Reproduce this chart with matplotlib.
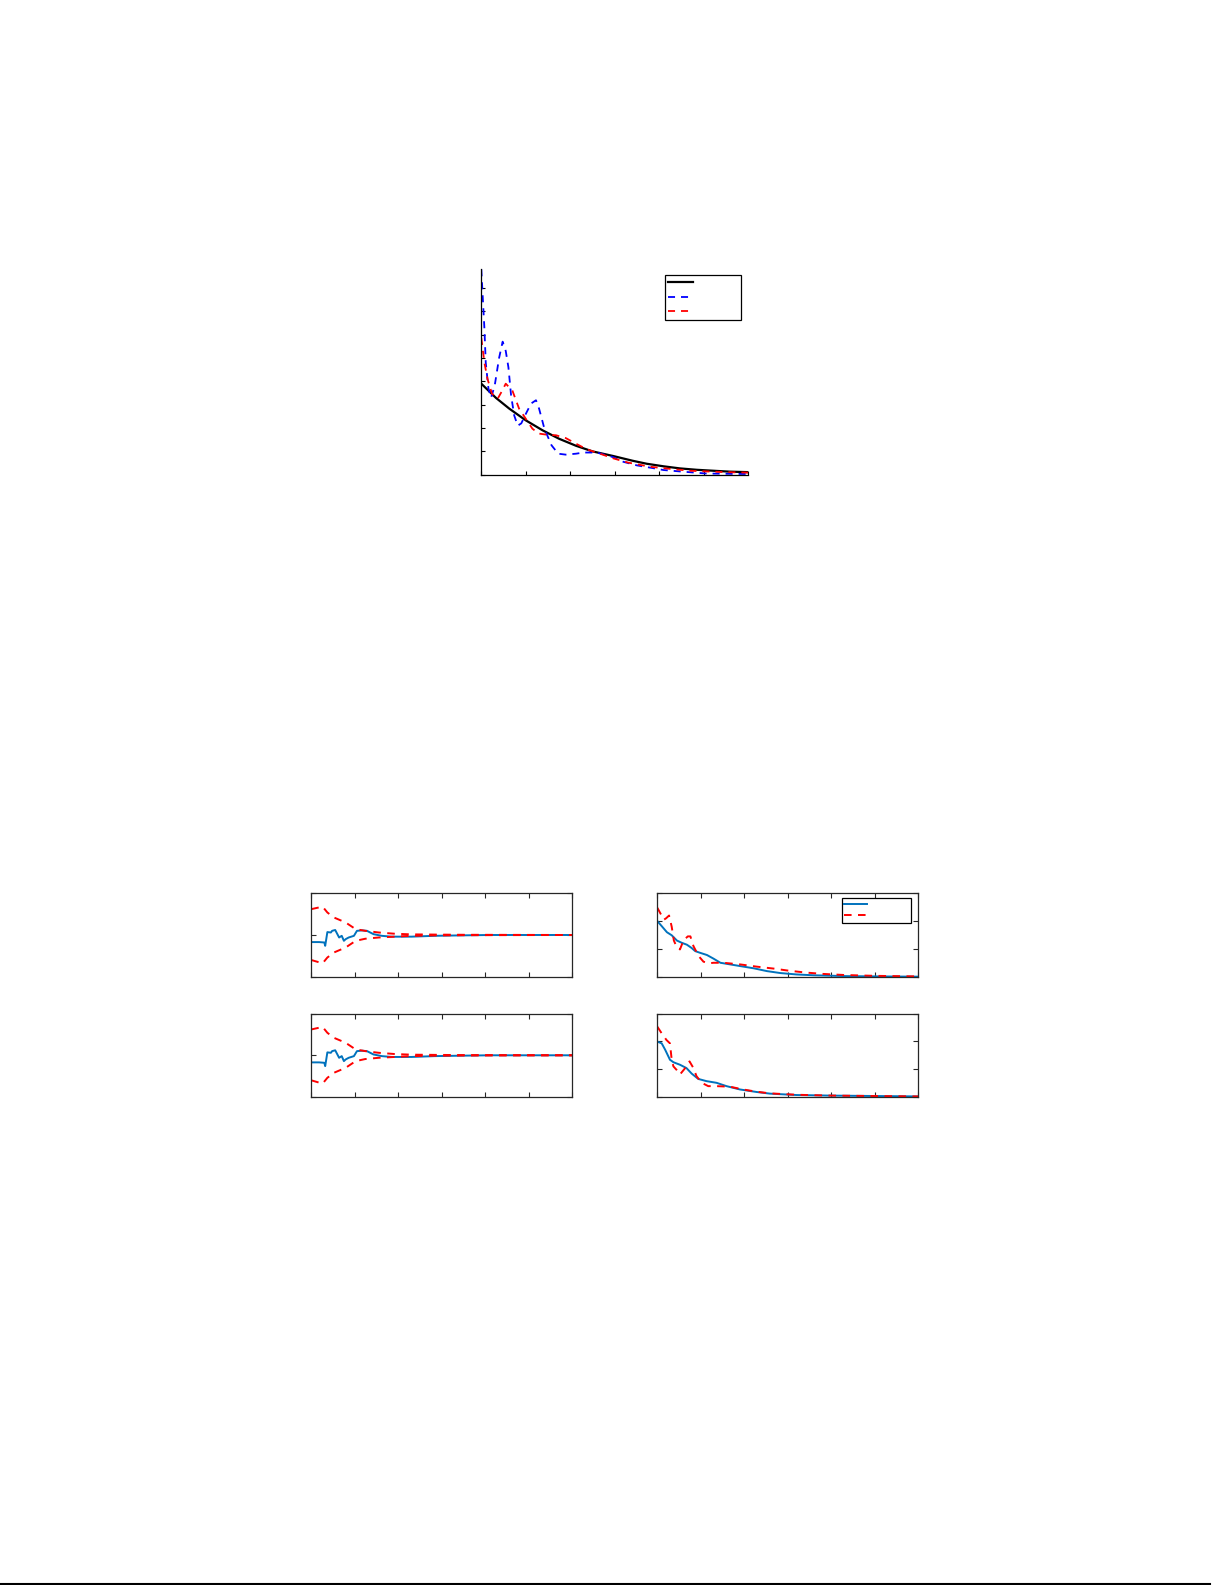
import matplotlib
matplotlib.use("Agg")
import matplotlib.pyplot as plt
from matplotlib.lines import Line2D

# top plot: exact curve and two estimates
exactX=[0, 0.33, 0.63, 1.0, 1.38, 1.75, 2.13, 2.5, 2.97, 3.4, 3.72, 4.1, 4.47, 4.85, 5.22, 5.6, 6.0]
exactY=[3.9, 3.29, 2.83, 2.33, 1.9, 1.54, 1.24, 1.0, 0.8, 0.6, 0.47, 0.36, 0.27, 0.21, 0.17, 0.13, 0.11]

estBlueX=[0, 0.03, 0.07, 0.1, 0.16, 0.22, 0.3, 0.4, 0.48, 0.55, 0.61, 0.67, 0.74, 0.82, 0.9, 1.0, 1.12, 1.23, 1.3,
          1.42, 1.58, 1.73, 1.9, 2.13, 2.3, 2.6, 2.97, 3.2, 3.5, 3.87, 4.1, 4.47, 5.07, 5.5, 6.0]
estBlueY=[8.8, 7.7, 6.26, 4.8, 3.7, 3.3, 3.8, 5.0, 5.7, 5.3, 4.6, 3.4, 2.54, 2.1, 2.2, 2.6, 3.05, 3.19, 2.83,
          1.97, 1.26, 0.9, 0.86, 0.9, 0.95, 0.95, 0.75, 0.55, 0.4, 0.28, 0.2, 0.14, 0.05, 0.04, 0.03]

estRedX=[0, 0.07, 0.14, 0.24, 0.37, 0.47, 0.55, 0.7, 0.85, 1.0, 1.15, 1.3, 1.49, 1.68, 1.9, 2.13, 2.37, 2.67,
         2.97, 3.3, 3.8, 4.3, 4.7, 5.07, 5.5, 6.0]
estRedY=[5.86, 4.8, 4.1, 3.47, 3.26, 3.6, 3.9, 3.6, 2.83, 2.4, 1.97, 1.76, 1.71, 1.69, 1.57, 1.33, 1.09, 0.9,
         0.7, 0.52, 0.34, 0.24, 0.17, 0.14, 0.11, 0.09]

# left panels: path and its band
pathX=[0, 0.18, 0.3, 0.32, 0.37, 0.45, 0.48, 0.55, 0.6, 0.64, 0.7, 0.75, 0.79, 0.86, 0.98, 1.05, 1.17, 1.28,
       1.43, 1.62, 1.85, 2.3, 2.83, 3.4, 4.1, 6.0]
pathY=[-0.17, -0.17, -0.18, -0.26, 0.07, 0.06, 0.1, 0.12, 0.02, -0.06, -0.02, -0.14, -0.1, -0.06, -0.02, 0.1,
       0.11, 0.1, 0.02, -0.02, -0.04, -0.04, -0.02, -0.01, 0.0, 0.0]
bandX=[0, 0.26, 0.37, 0.52, 0.79, 1.02, 1.24, 1.55, 1.92, 2.3, 2.83, 3.5, 6.0]
bandUp=[0.62, 0.68, 0.54, 0.42, 0.3, 0.14, 0.1, 0.06, 0.03, 0.015, 0.01, 0.005, 0.0]
bandLow=[-0.6, -0.68, -0.54, -0.42, -0.3, -0.14, -0.09, -0.06, -0.04, -0.02, -0.01, -0.005, 0.0]

# right panels: smooth decay vs noisy one
decay1X=[0, 0.1, 0.22, 0.33, 0.45, 0.56, 0.68, 0.79, 0.87, 0.98, 1.14, 1.29, 1.45, 1.68, 1.91, 2.22, 2.52,
         2.83, 3.2, 3.59, 4.35, 5.0, 6.0]
decay1Y=[2.0, 1.82, 1.6, 1.49, 1.3, 1.22, 1.15, 1.03, 0.92, 0.86, 0.78, 0.65, 0.5, 0.44, 0.38, 0.3, 0.2,
         0.13, 0.08, 0.05, 0.02, 0.01, 0.0]
noisy1X=[0, 0.08, 0.15, 0.2, 0.27, 0.33, 0.38, 0.45, 0.52, 0.6, 0.7, 0.76, 0.83, 0.95, 1.06, 1.18, 1.29, 1.52,
         1.91, 2.29, 2.68, 3.0, 3.4, 3.8, 4.3, 5.0, 6.0]
noisy1Y=[2.48, 2.25, 2.05, 2.1, 2.2, 1.8, 1.3, 1.05, 0.98, 1.3, 1.45, 1.45, 1.1, 0.74, 0.54, 0.48, 0.5, 0.5,
         0.44, 0.36, 0.29, 0.22, 0.15, 0.1, 0.06, 0.03, 0.01]

decay2X=[0, 0.1, 0.18, 0.29, 0.37, 0.52, 0.67, 0.79, 0.94, 1.13, 1.36, 1.59, 1.9, 2.28, 2.59, 3.2, 3.97, 6.0]
decay2Y=[1.99, 1.93, 1.7, 1.34, 1.25, 1.16, 1.04, 0.84, 0.65, 0.57, 0.51, 0.39, 0.27, 0.18, 0.12, 0.07, 0.05, 0.02]
noisy2X=[0, 0.1, 0.21, 0.29, 0.33, 0.37, 0.44, 0.52, 0.64, 0.74, 0.83, 0.9, 1.02, 1.17, 1.36, 1.67, 1.97, 2.28,
         2.59, 3.2, 3.97, 6.0]
noisy2Y=[2.53, 2.29, 2.05, 1.93, 1.34, 1.1, 0.98, 0.81, 1.04, 1.28, 1.04, 0.75, 0.51, 0.39, 0.39, 0.37, 0.27, 0.19,
         0.13, 0.08, 0.05, 0.02]

mBlue='#0072BD'
dash=(3.9,3.3)

def topPlot(fig):
    ax=fig.add_axes([0.3929,0.7005,0.2177,0.1296])
    l1,=ax.plot(exactX,exactY,color='k',lw=1.6)
    l2,=ax.plot(estBlueX,estBlueY,color='b',lw=1.3,ls='--',dashes=dash)
    l3,=ax.plot(estRedX,estRedY,color='r',lw=1.3,ls='--',dashes=dash)
    ax.set_xlim(0,6)
    ax.set_ylim(0,8.8)
    ax.set_xticks(range(7))
    ax.set_yticks(range(9))
    ax.spines['top'].set_visible(False)
    ax.spines['right'].set_visible(False)
    for s in ['left','bottom']:
        ax.spines[s].set_linewidth(0.9)
    ax.tick_params(direction='in',length=3,width=0.8,labelbottom=False,labelleft=False)
    leg=ax.legend([l1,l2,l3],['','',''],loc='upper left',bbox_to_anchor=(0.689,0.972),borderaxespad=0,
                  fontsize=8,handlelength=2.25,handletextpad=4.1,labelspacing=0.42,borderpad=0.25,
                  fancybox=False,framealpha=1,edgecolor='k')
    leg.get_frame().set_linewidth(0.9)

def panel(fig,rect,ylim,yticks):
    ax=fig.add_axes(rect)
    ax.set_xlim(0,6)
    ax.set_ylim(*ylim)
    ax.set_xticks(range(7))
    ax.set_yticks(yticks)
    for s in ax.spines.values():
        s.set_color('#262626')
        s.set_linewidth(0.9)
    ax.tick_params(direction='in',length=3.5,width=0.8,color='#262626',top=True,right=True,
                   labelbottom=False,labelleft=False)
    return ax

def bottomPlots(fig):
    for bottom in [0.3838,0.3079]:
        ax=panel(fig,[0.2541,bottom,0.2131,0.0526],(-1,1),[-1,0,1])
        ax.plot(pathX,pathY,color=mBlue,lw=1.4)
        ax.plot(bandX,bandUp,color='r',lw=1.4,ls='--',dashes=dash)
        ax.plot(bandX,bandLow,color='r',lw=1.4,ls='--',dashes=dash)

    ax=panel(fig,[0.5366,0.3838,0.2131,0.0526],(0,3),[0,1,2,3])
    b,=ax.plot(decay1X,decay1Y,color=mBlue,lw=1.4)
    r,=ax.plot(noisy1X,noisy1Y,color='r',lw=1.4,ls='--',dashes=dash)
    leg=ax.legend([b,r],['',''],loc='upper right',bbox_to_anchor=(0.972,0.94),borderaxespad=0,
                  fontsize=8,handlelength=2.1,handletextpad=3.8,labelspacing=0.08,borderpad=0.15,
                  fancybox=False,framealpha=1,edgecolor='k')
    leg.get_frame().set_linewidth(0.9)

    ax=panel(fig,[0.5366,0.3079,0.2131,0.0526],(0,3),[0,1,2,3])
    ax.plot(decay2X,decay2Y,color=mBlue,lw=1.4)
    ax.plot(noisy2X,noisy2Y,color='r',lw=1.4,ls='--',dashes=dash)

def main():
    fig=plt.figure(figsize=(12.25,15.85),dpi=100)
    topPlot(fig)
    bottomPlots(fig)
    # page rule at the very bottom
    fig.add_artist(Line2D([0,0.988],[0.0009,0.0009],transform=fig.transFigure,color='k',lw=1.5))
    fig.savefig('out.png',dpi=100)

if __name__=="__main__":
    main()
